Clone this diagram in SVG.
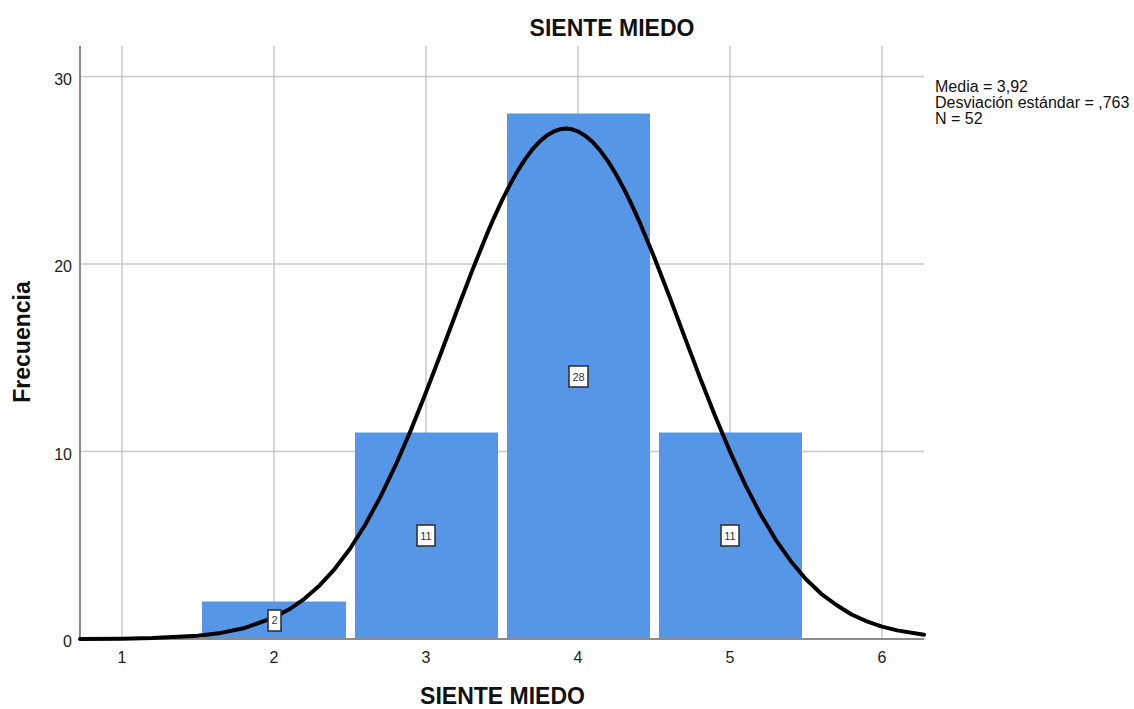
<svg xmlns="http://www.w3.org/2000/svg" width="1134" height="709" viewBox="0 0 1134 709">
<style>
.grid{stroke:#c8c8c8;stroke-width:1.5;fill:none}
.axis{stroke:#8c8c8c;stroke-width:2;fill:none}
.bar{fill:#5596e6}
.tick{font-family:"Liberation Sans",Arial,sans-serif;font-size:16px;fill:#222}
.title{font-family:"Liberation Sans",Arial,sans-serif;font-size:23px;font-weight:bold;fill:#111}
.leg{font-family:"Liberation Sans",Arial,sans-serif;font-size:16px;fill:#111}
.lbox{fill:#fff;stroke:#333;stroke-width:1.6}
.ltxt{font-family:"Liberation Sans",Arial,sans-serif;font-size:11px;fill:#333;text-anchor:middle}
.curve{fill:none;stroke:#000;stroke-width:4;stroke-linejoin:round;stroke-linecap:round}
</style>
<rect width="1134" height="709" fill="#fff"/>
<g id="grid">
<line class="grid" x1="122" y1="46" x2="122" y2="639"/>
<line class="grid" x1="274" y1="46" x2="274" y2="639"/>
<line class="grid" x1="426" y1="46" x2="426" y2="639"/>
<line class="grid" x1="578" y1="46" x2="578" y2="639"/>
<line class="grid" x1="730" y1="46" x2="730" y2="639"/>
<line class="grid" x1="882" y1="46" x2="882" y2="639"/>
<line class="grid" x1="80" y1="76.5" x2="924" y2="76.5"/>
<line class="grid" x1="80" y1="264" x2="924" y2="264"/>
<line class="grid" x1="80" y1="451.5" x2="924" y2="451.5"/>
</g>
<g id="bars">
<rect id="bar2" class="bar" x="202" y="601.5" width="144" height="37.5"/>
<rect id="bar3" class="bar" x="355" y="432.5" width="143" height="206.5"/>
<rect id="bar4" class="bar" x="507" y="113.5" width="143" height="525.5"/>
<rect id="bar5" class="bar" x="659" y="432.5" width="143" height="206.5"/>
</g>
<g id="axes">
<line class="axis" x1="80" y1="46" x2="80" y2="640"/>
<line class="axis" x1="79" y1="639" x2="924" y2="639"/>
</g>
<g id="connectors">
<polyline class="curve" points="80,638.9 122,638.7 152.4,638.1 198,635.7 220.8,632.9 243.6,628.3 274,617.5 289.2,609.3 304.4,598.8 319.6,585.4 334.8,568.8 350,548.7 365.2,524.7 380.4,496.9 395.6,465.2 410.8,430.2 426,392.3 441.2,352.5 456.4,312 471.6,272.1 486.8,234.4 494.4,216.8 502,200.4 509.6,185.3 517.2,171.6 524.8,159.6 532.4,149.4 540,141.2 547.6,134.9 555.2,130.8 559.8,129.3 565.8,128.6 571.9,129.3 578,131.4 585.6,136 593.2,142.6 600.8,151.3 608.4,161.9 616,174.2 623.6,188.2 631.2,203.6 638.8,220.3 654,256.7 669.2,295.9 684.4,336.4 699.6,376.6 714.8,415.3 730,451.6 745.2,484.7 760.4,514 775.6,539.6 790.8,561.2 806,579.2 821.2,593.8 836.4,605 851.6,614.5 866.8,621.4 882,626.6 897.2,630.4 924,634.7"/>
</g>
<g id="labels">
<g id="lab2"><rect class="lbox" x="268" y="610" width="13" height="21"/><text class="ltxt" x="274.5" y="624">2</text></g>
<g id="lab3"><rect class="lbox" x="417" y="525" width="18" height="21"/><text class="ltxt" x="426" y="539.5">11</text></g>
<g id="lab4"><rect class="lbox" x="569" y="366" width="19" height="21"/><text class="ltxt" x="578.5" y="380.5">28</text></g>
<g id="lab5"><rect class="lbox" x="721" y="525" width="18" height="21"/><text class="ltxt" x="730" y="539.5">11</text></g>
</g>
<g id="ticks">
<text class="tick" x="72" y="85" text-anchor="end">30</text>
<text class="tick" x="72" y="272" text-anchor="end">20</text>
<text class="tick" x="72" y="460" text-anchor="end">10</text>
<text class="tick" x="72" y="647" text-anchor="end">0</text>
<text class="tick" x="122" y="663" text-anchor="middle">1</text>
<text class="tick" x="274" y="663" text-anchor="middle">2</text>
<text class="tick" x="426" y="663" text-anchor="middle">3</text>
<text class="tick" x="578" y="663" text-anchor="middle">4</text>
<text class="tick" x="730" y="663" text-anchor="middle">5</text>
<text class="tick" x="882" y="663" text-anchor="middle">6</text>
</g>
<text class="title" x="612" y="36" text-anchor="middle">SIENTE MIEDO</text>
<text class="title" x="502.5" y="704" text-anchor="middle">SIENTE MIEDO</text>
<text class="title" x="0" y="0" text-anchor="middle" transform="translate(30,342) rotate(-90)">Frecuencia</text>
<g id="legend">
<text class="leg" x="935" y="92">Media = 3,92</text>
<text class="leg" x="935" y="108">Desviación estándar = ,763</text>
<text class="leg" x="935" y="124">N = 52</text>
</g>
</svg>
